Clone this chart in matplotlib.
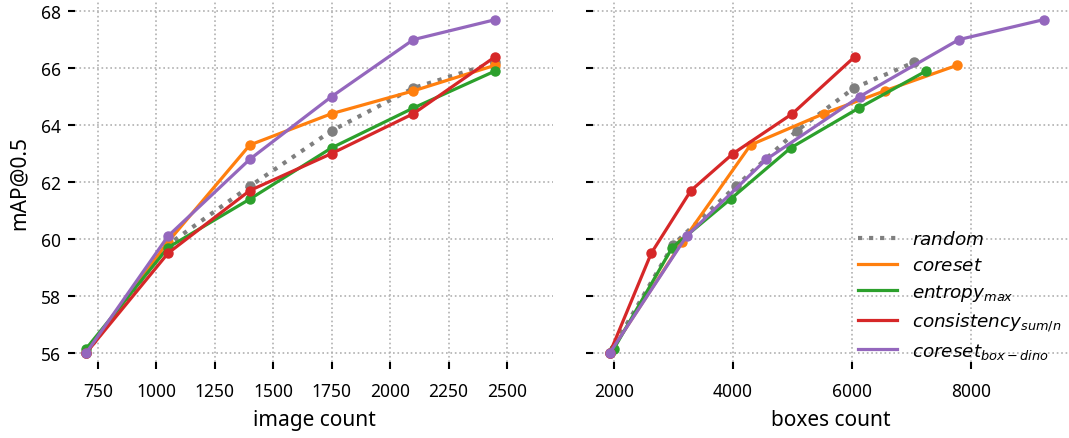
import matplotlib
matplotlib.use("Agg")
import matplotlib.pyplot as plt
from matplotlib.lines import Line2D

# ---- data ----
image_count = [700, 1050, 1400, 1750, 2100, 2450]

random_map = [56.0, 59.8, 61.85, 63.8, 65.3, 66.2]
coreset_map = [56.0, 59.9, 63.3, 64.4, 65.2, 66.1]
entropy_map = [56.15, 59.7, 61.4, 63.2, 64.6, 65.9]
consistency_map = [56.0, 59.5, 61.7, 63.0, 64.4, 66.4]
coreset_dino_map = [56.0, 60.1, 62.8, 65.0, 67.0, 67.7]

random_boxes = [1930, 2997, 4050, 5075, 6038, 7045]
coreset_boxes = [1930, 3148, 4297, 5529, 6553, 7773]
entropy_boxes = [2000, 2980, 3960, 4974, 6122, 7253]
consistency_boxes = [1930, 2627, 3294, 4004, 5002, 6050]
coreset_dino_boxes = [1930, 3221, 4565, 6133, 7802, 9225]

labels = [r"$random$", r"$coreset$", r"$entropy_{max}$",
          r"$consistency_{sum/n}$", r"$coreset_{box-dino}$"]
colors = ["#7f7f7f", "#ff7f0e", "#2ca02c", "#d62728", "#9467bd"]

plt.rcParams['font.family'] = ['Noto Sans', 'DejaVu Sans']
plt.rcParams['mathtext.fontset'] = 'dejavusans'

fig = plt.figure(figsize=(10.69, 4.39), dpi=100)
W, H = 1069, 439
ax1 = fig.add_axes([75 / W, 76 / H, (553 - 75) / W, 360 / H])
ax2 = fig.add_axes([593 / W, 76 / H, (1068 - 593) / W, 360 / H])

maps = [random_map, coreset_map, entropy_map, consistency_map, coreset_dino_map]
boxes = [random_boxes, coreset_boxes, entropy_boxes, consistency_boxes, coreset_dino_boxes]

for ax, xs_list in [(ax1, [image_count] * 5), (ax2, boxes)]:
    for i, (xs, ys) in enumerate(zip(xs_list, maps)):
        ls = ':' if i == 0 else '-'
        lw = 3 if i == 0 else 2.3
        ax.plot(xs, ys, linestyle=ls, color=colors[i], lw=lw, marker='o',
                markersize=6.5, label=labels[i], zorder=3)
    for s in ax.spines.values():
        s.set_visible(False)
    ax.grid(True, linestyle=':', color='#b0b0b0', lw=1.2)
    ax.set_axisbelow(True)
    ax.set_ylim(55.68, 68.32)
    ax.set_yticks([56, 58, 60, 62, 64, 66, 68])
    ax.tick_params(axis='both', length=5, width=1.5, color='black',
                   labelsize=12.5)
    ax.tick_params(axis='x', pad=9.5)
    ax.tick_params(axis='y', pad=5)

ax1.set_xlim(652, 2697)
ax1.set_xticks([750, 1000, 1250, 1500, 1750, 2000, 2250, 2500])
ax2.set_xlim(1647, 9637)
ax2.set_xticks([2000, 4000, 6000, 8000])
ax2.tick_params(axis='y', labelleft=False)

ax1.set_xlabel("image count", fontsize=15, labelpad=6.5)
ax2.set_xlabel("boxes count", fontsize=15, labelpad=6.5)
ax1.set_ylabel("mAP@0.5", fontsize=15, labelpad=8)

handles, labs = ax2.get_legend_handles_labels()
hs = [Line2D([], [], color=h.get_color(), linestyle=h.get_linestyle(),
             lw=h.get_linewidth()) for h in handles]
ax2.legend(hs, labs, loc='lower right', frameon=False, fontsize=13.2,
           handlelength=2.15, handletextpad=0.8, labelspacing=0.42,
           bbox_to_anchor=(1.0 + 10 / 475, -0.02 - 8 / 360))

fig.savefig("out.png", dpi=100)
